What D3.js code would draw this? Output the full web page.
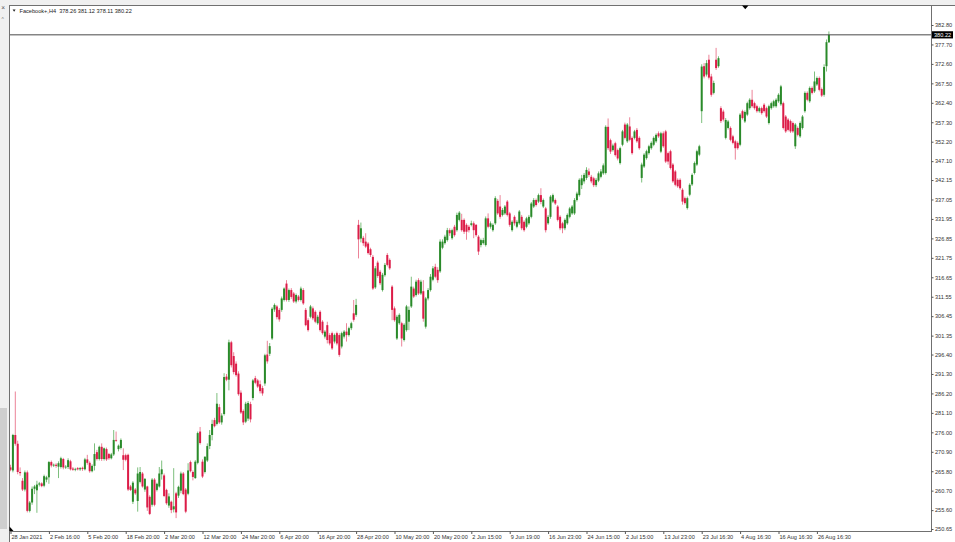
<!DOCTYPE html>
<html><head><meta charset="utf-8">
<script src="https://cdn.jsdelivr.net/npm/d3@7"></script>
<style>
html,body{margin:0;padding:0;background:#fff;}
svg{display:block;font-family:"Liberation Sans",Arial,sans-serif;}
</style></head><body>
<svg id="c" width="955" height="542"></svg>
<script>
// ---- data (H4 candles, Facebook+) ----
const symbolTitle = "Facebook+,H4";
const lastQuote = ["378.26","381.12","378.11","380.22"];
const opens = [
266.8,266.0,275.3,273.0,265.6,263.3,261.0,265.5,255.4,257.6,
261.2,260.8,262.3,262.6,262.0,263.6,264.2,268.2,267.3,267.5,
267.0,266.9,269.0,266.8,266.9,268.4,266.5,266.2,266.6,266.3,
266.7,266.3,268.9,268.0,265.8,267.2,270.8,269.0,272.2,269.0,
271.6,270.3,269.2,270.2,274.0,271.6,271.9,270.0,270.0,270.1,
261.8,257.8,261.0,258.0,263.0,265.2,261.0,261.8,259.1,257.0,
263.6,260.9,261.8,265.0,264.7,260.9,256.8,257.8,255.8,260.0,
259.4,260.7,265.2,261.0,259.9,268.2,265.6,264.0,268.0,276.2,
268.3,265.6,268.6,272.4,275.3,279.2,278.2,282.6,278.6,280.8,
290.6,289.8,299.6,296.0,294.0,291.4,286.4,281.6,278.8,279.6,
283.4,285.0,290.2,289.6,288.6,287.6,288.8,296.4,296.6,300.6,
308.2,309.0,308.1,308.1,310.7,315.0,310.7,313.3,312.4,310.3,
311.6,310.7,313.3,308.1,305.4,306.3,308.5,307.6,304.6,307.6,
305.0,301.1,304.1,301.5,302.0,299.8,302.0,301.5,298.5,301.1,
302.4,301.5,303.3,307.2,306.8,330.4,326.8,327.0,326.0,325.5,
324.0,322.0,314.0,320.5,318.1,313.3,317.2,322.5,321.2,314.2,
308.5,300.6,304.6,304.6,300.2,302.8,305.0,309.0,313.7,312.0,
315.9,312.4,313.0,303.7,311.1,313.3,316.0,319.4,318.6,318.2,
324.4,325.6,326.4,329.0,326.9,329.9,329.0,331.7,331.7,331.7,
330.4,329.9,330.4,330.8,330.4,327.3,325.1,325.6,325.1,332.1,
329.9,329.0,330.8,336.7,335.2,333.0,333.4,336.5,333.4,329.0,
332.5,329.9,330.8,332.5,331.2,329.9,330.8,332.5,335.2,336.9,
336.5,338.2,335.2,334.7,330.8,332.5,336.5,336.9,335.2,332.5,
330.8,329.5,330.8,332.5,333.4,333.4,336.9,338.2,340.8,341.8,
342.7,344.4,343.0,342.6,340.8,342.0,343.0,343.9,344.0,356.1,
352.6,350.0,351.8,350.0,346.6,351.4,356.7,352.3,356.2,353.2,
353.2,355.3,353.2,342.7,345.7,347.9,349.2,350.5,351.4,352.3,
354.4,349.6,354.4,354.9,349.2,349.7,346.2,344.4,342.2,342.2,
339.6,337.4,334.8,338.3,341.0,344.0,346.2,348.8,360.2,372.0,
369.8,373.7,369.3,365.0,373.7,372.0,361.0,360.1,353.2,355.8,
355.8,353.6,352.3,351.9,351.4,360.2,357.5,359.3,361.0,363.2,
362.3,361.5,360.2,361.0,361.9,361.0,357.1,361.0,361.5,361.5,
362.8,362.0,362.3,358.8,358.0,357.6,357.1,351.0,355.8,353.6,
355.8,360.2,365.0,362.8,366.3,365.4,367.2,368.9,366.0,364.5,
372.0,378.26];
const highs = [
267.5,275.6,286.7,273.8,266.8,264.0,266.0,266.0,258.0,261.8,
262.2,263.3,263.0,262.9,264.9,264.6,268.5,268.6,267.8,267.9,
268.4,269.6,269.3,267.4,269.2,268.8,266.9,266.7,266.9,266.9,
267.0,269.3,270.1,268.4,267.6,273.1,271.4,272.5,273.1,272.0,
272.0,270.6,270.6,276.6,276.2,272.8,274.4,271.8,270.4,270.4,
262.2,263.2,261.4,266.8,266.9,265.6,264.0,262.0,259.5,264.0,
264.0,262.8,266.9,268.6,265.2,261.2,260.0,258.1,266.6,260.4,
262.0,265.7,265.6,261.4,267.9,268.6,266.0,268.7,276.2,277.4,
268.9,269.7,273.1,276.6,279.3,279.8,286.3,283.4,281.0,291.5,
291.3,300.3,300.0,297.0,294.6,292.0,287.0,282.0,284.0,284.2,
284.0,290.0,290.8,290.0,289.6,288.2,296.6,300.0,299.4,308.8,
309.8,309.4,308.6,311.6,314.0,315.9,313.7,313.8,312.8,312.4,
312.0,314.2,313.8,308.6,305.9,309.4,309.0,308.0,306.8,308.0,
305.4,302.8,305.0,302.0,302.4,301.9,302.4,302.0,302.4,302.8,
304.6,303.7,305.0,310.7,311.0,331.7,331.0,327.5,328.2,325.9,
324.4,322.5,319.6,321.0,318.6,317.8,320.4,323.0,321.6,314.6,
309.0,306.8,307.2,305.0,304.6,309.4,309.0,316.8,314.2,316.0,
316.4,316.0,315.9,311.5,313.8,317.5,319.6,320.2,319.3,326.6,
326.6,327.8,329.6,329.5,329.4,330.4,333.6,334.0,333.3,332.1,
330.8,330.4,331.5,331.3,330.6,327.7,326.8,327.0,332.6,333.4,
331.3,330.8,337.9,337.2,338.2,334.8,335.6,336.9,333.8,331.6,
332.9,331.7,334.3,333.0,331.6,332.5,333.0,336.4,337.4,337.3,
338.6,340.0,337.3,335.1,333.0,338.2,338.6,337.3,335.6,332.9,
331.2,332.1,333.4,335.1,335.6,337.4,339.1,342.6,343.5,344.0,
345.5,345.2,343.5,343.0,342.7,344.4,345.0,346.5,356.5,358.3,
353.0,351.7,352.2,350.4,350.9,355.3,357.2,357.1,358.6,353.6,
355.3,355.8,353.6,346.7,349.2,350.1,351.4,352.3,353.6,354.4,
354.9,354.8,354.9,355.3,349.6,350.1,346.6,344.8,342.6,342.6,
340.0,337.8,337.8,341.3,343.9,347.0,350.1,351.4,372.5,372.8,
373.6,375.0,370.0,368.2,376.8,374.6,361.5,360.6,358.4,357.9,
356.2,354.0,352.7,352.3,359.7,360.6,360.4,362.7,363.6,365.8,
362.7,361.9,361.4,361.4,362.3,361.4,361.9,362.7,363.2,363.6,
364.9,367.1,362.7,359.2,358.4,358.0,357.5,357.1,356.2,357.5,
359.2,365.4,365.4,366.7,366.7,370.6,369.3,369.3,366.4,372.5,
379.0,381.12];
const lows = [
265.8,265.5,272.5,265.0,264.6,260.6,260.5,255.0,255.0,257.0,
259.8,254.9,261.8,261.6,261.6,262.9,262.5,266.8,266.9,266.7,
264.0,266.5,266.3,266.4,266.4,266.0,265.9,265.8,266.0,265.9,
265.9,266.0,267.5,265.4,265.5,266.0,268.6,268.6,268.5,268.6,
268.5,268.8,268.9,269.8,273.5,271.0,271.5,266.1,268.4,260.6,
260.6,257.2,259.6,255.2,262.6,261.5,260.4,255.4,254.3,256.5,
256.6,260.5,261.5,263.6,259.0,257.0,256.2,254.8,255.0,253.5,
258.8,260.0,259.5,254.8,259.5,265.5,263.4,263.8,267.6,272.8,
264.0,265.2,268.2,271.6,273.9,277.3,277.8,278.2,278.0,280.4,
289.4,287.0,293.0,291.2,290.6,285.6,280.8,277.9,278.4,279.0,
278.6,284.4,288.6,287.6,286.2,285.6,288.2,294.0,296.0,300.2,
307.6,305.6,305.0,307.6,310.3,310.3,310.2,311.0,309.9,309.8,
310.3,310.3,309.4,303.8,302.4,305.9,305.4,304.6,304.2,302.4,
301.6,300.6,299.3,298.8,297.6,299.3,298.8,295.8,298.0,300.6,
299.8,301.1,302.8,305.0,306.3,321.6,325.8,324.9,324.3,322.6,
322.0,313.3,313.6,316.5,314.6,312.9,316.8,319.5,318.6,305.4,
305.0,300.2,304.2,298.5,299.8,302.4,302.8,308.6,311.2,311.6,
312.0,312.0,305.0,303.2,310.6,312.9,315.6,316.4,315.2,317.8,
324.0,325.2,326.0,327.5,326.5,327.3,328.6,331.3,328.6,328.0,
326.5,328.4,330.0,326.9,327.3,322.5,324.5,325.2,324.7,329.5,
329.4,328.6,330.4,333.0,332.0,332.6,333.0,332.6,329.9,328.6,
330.2,329.5,330.4,329.0,328.6,329.5,330.4,332.1,334.8,335.2,
336.1,335.8,334.8,328.4,330.4,332.0,336.1,335.6,331.3,329.0,
328.2,329.0,330.4,332.1,333.0,333.0,336.5,337.8,339.8,341.2,
342.2,343.0,341.3,340.3,340.3,341.6,342.6,343.5,343.6,350.0,
349.0,349.6,348.3,347.3,346.2,351.0,352.8,351.9,352.3,348.8,
352.8,351.9,350.1,341.5,345.3,347.5,348.8,350.1,351.0,351.9,
353.2,349.2,350.6,346.6,346.2,344.9,341.4,340.5,340.1,339.6,
335.7,335.7,334.4,337.9,340.6,343.6,345.8,348.4,357.1,368.8,
369.3,368.5,364.0,364.6,371.0,371.6,357.1,357.5,352.8,355.4,
352.3,351.5,347.5,350.1,351.0,358.0,357.1,358.9,360.6,361.1,
360.6,359.8,359.8,359.3,359.8,358.4,356.7,360.6,361.1,361.1,
362.4,361.6,355.4,354.5,354.9,354.5,354.5,350.3,353.6,353.2,
355.4,359.8,362.8,362.4,364.6,365.0,366.8,365.4,363.9,364.0,
370.6,378.11];
const closes = [
266.2,275.3,273.0,265.6,265.3,261.0,265.5,255.4,257.6,261.2,
261.8,262.3,262.6,261.9,264.5,264.2,268.2,267.3,267.5,267.2,
267.9,269.2,266.8,267.0,268.7,266.3,266.2,266.4,266.3,266.6,
266.4,268.9,268.0,265.8,267.2,270.3,269.0,272.2,269.0,271.8,
268.9,269.2,270.2,274.0,273.8,272.5,274.0,268.8,268.8,261.0,
260.9,262.8,260.0,265.2,265.6,261.8,263.8,256.3,254.6,263.6,
257.0,262.5,265.2,266.3,259.3,257.4,259.2,255.6,256.6,255.0,
261.7,265.2,259.8,255.2,266.0,265.8,264.3,268.3,275.8,273.2,
264.4,269.6,272.4,275.3,278.2,277.6,283.5,278.6,280.4,290.5,
289.8,299.6,293.6,291.8,291.0,286.0,281.2,278.6,283.5,283.7,
279.4,289.6,289.0,288.0,286.8,286.2,296.2,294.6,298.6,308.4,
309.4,306.2,305.6,311.1,313.7,310.7,313.3,311.5,310.3,312.0,
310.7,313.7,309.8,304.1,302.8,309.0,305.9,305.0,306.3,302.8,
302.0,302.4,300.2,299.3,298.0,301.5,299.3,296.3,302.0,302.4,
301.5,303.3,304.6,305.5,309.4,326.6,329.5,325.6,324.7,323.0,
322.5,313.7,319.0,317.0,315.1,317.3,319.9,319.9,319.0,308.1,
305.4,306.3,306.8,300.6,304.2,309.0,308.1,314.2,311.6,315.5,
312.4,315.5,305.8,311.1,313.3,316.8,319.0,316.8,315.9,326.0,
326.0,327.3,329.0,328.2,329.0,327.7,333.0,333.6,329.0,328.6,
328.6,329.0,330.8,329.0,327.7,323.4,326.4,326.4,332.1,329.9,
330.8,330.4,337.4,333.4,332.5,334.3,335.2,333.0,330.4,331.2,
330.8,331.2,333.9,329.5,329.0,332.1,332.5,336.0,336.9,335.6,
338.2,336.4,336.9,329.0,332.5,337.8,338.2,336.0,331.7,329.5,
329.5,331.7,333.0,334.7,335.2,336.9,338.6,342.2,342.6,343.5,
344.8,343.5,341.8,340.8,342.2,343.9,344.4,346.0,356.1,350.5,
349.6,351.2,348.7,347.8,350.5,354.9,353.2,356.7,352.7,349.2,
354.9,352.3,350.5,346.2,348.8,349.7,351.0,351.9,353.2,354.0,
353.6,354.4,351.0,347.0,347.0,345.3,341.8,340.9,340.5,340.0,
336.5,336.1,337.4,340.9,343.5,346.6,349.7,351.0,371.9,369.3,
372.8,369.0,364.5,367.6,371.5,374.1,357.6,358.0,357.9,357.5,
352.7,351.9,350.5,350.5,359.3,358.4,360.0,362.3,363.2,361.5,
361.0,360.2,361.0,359.7,360.2,358.8,361.5,362.3,362.8,363.2,
364.5,366.7,355.8,354.9,355.3,354.9,354.9,356.7,354.0,357.1,
358.8,365.0,363.2,366.3,365.0,368.0,368.9,365.8,364.3,371.8,
378.3,380.22];
const timeLabels = ["28 Jan 2021","2 Feb 16:00","5 Feb 20:00","18 Feb 20:00","2 Mar 20:00",
"12 Mar 20:00","24 Mar 20:00","6 Apr 20:00","16 Apr 20:00","28 Apr 20:00","10 May 20:00",
"20 May 20:00","2 Jun 15:00","9 Jun 19:00","16 Jun 23:00","24 Jun 15:00","2 Jul 15:00",
"13 Jul 23:00","23 Jul 16:30","4 Aug 16:30","16 Aug 16:30","26 Aug 16:30"];
const barsPerLabel = 16;
const priceTicks = [382.80,377.70,372.60,367.50,362.40,357.30,352.20,347.10,342.15,337.05,
331.95,326.85,321.75,316.65,311.55,306.45,301.35,296.40,291.30,286.20,281.10,276.00,
270.90,265.80,260.70,255.60,250.65];
const currentPrice = 380.22;

// ---- drawing ----
const W = 955, H = 542;
const plot = {left: 9, right: 931, top: 5, bottom: 531};
const N = closes.length;
const svg = d3.select("#c");
const FS = 5.6;
const upBody = "#2a8a2a", dnBody = "#dc1c48", upWick = "#7dbf7d", dnWick = "#ec8398";

// window chrome
svg.append("rect").attr("x",0).attr("y",0).attr("width",W).attr("height",plot.top).attr("fill","#f0f0f0");
svg.append("rect").attr("x",0).attr("y",0).attr("width",plot.left).attr("height",H).attr("fill","#f0f0f0");
svg.append("rect").attr("x",0).attr("y",408).attr("width",7).attr("height",121).attr("fill","#cfcfcf");
svg.append("text").attr("x",1.2).attr("y",10).attr("font-size",6.5).attr("fill","#555").text("×");
svg.append("text").attr("x",1.4).attr("y",21).attr("font-size",5).attr("fill","#777").text("^");

const x = d3.scaleLinear().domain([0, N-1]).range([10.5, 10.5 + 2.4*(N-1)]);
const y = d3.scaleLinear().domain([250.65, 382.80]).range([529, 25]);

const bars = d3.range(N).map(i => ({i, o: opens[i], h: highs[i], l: lows[i], c: closes[i]}));
const g = svg.append("g");
g.selectAll("line.wick").data(bars).join("line").attr("class","wick")
  .attr("x1", d => x(d.i)).attr("x2", d => x(d.i))
  .attr("y1", d => y(d.h)).attr("y2", d => y(d.l))
  .attr("stroke", d => d.c >= d.o ? upWick : dnWick).attr("stroke-width", 1);
g.selectAll("rect.body").data(bars).join("rect").attr("class","body")
  .attr("x", d => x(d.i) - 1).attr("width", 2)
  .attr("y", d => y(Math.max(d.o, d.c)))
  .attr("height", d => Math.max(0.8, Math.abs(y(d.o) - y(d.c))))
  .attr("fill", d => d.c >= d.o ? upBody : dnBody);

// price line
svg.append("line").attr("x1",plot.left).attr("x2",plot.right)
  .attr("y1",y(currentPrice)).attr("y2",y(currentPrice))
  .attr("stroke","#4a4a4a").attr("stroke-width",1);

// frame
svg.append("line").attr("x1",plot.left).attr("x2",W).attr("y1",plot.top+0.5).attr("y2",plot.top+0.5).attr("stroke","#707070");
svg.append("line").attr("x1",plot.left+0.5).attr("x2",plot.left+0.5).attr("y1",plot.top).attr("y2",H).attr("stroke","#707070");
svg.append("line").attr("x1",plot.right+0.5).attr("x2",plot.right+0.5).attr("y1",plot.top).attr("y2",plot.bottom+0.5).attr("stroke","#707070");
svg.append("line").attr("x1",plot.left).attr("x2",plot.right+1).attr("y1",plot.bottom+0.5).attr("y2",plot.bottom+0.5).attr("stroke","#707070");

// right price axis
const yAxis = d3.axisRight(y).tickValues(priceTicks).tickSize(2).tickPadding(1.5).tickFormat(d3.format(".2f"));
const ya = svg.append("g").attr("transform",`translate(${plot.right+0.5},0)`).call(yAxis);
ya.select(".domain").remove();
ya.selectAll("line").attr("stroke","#555");
ya.selectAll("text").attr("font-size",FS).attr("fill","#333").attr("font-family","Liberation Sans, Arial, sans-serif");

// current price tag
const tag = svg.append("g").attr("transform",`translate(${plot.right+1},${y(currentPrice)})`);
tag.append("rect").attr("x",0).attr("y",-3.6).attr("width",21).attr("height",7.2).attr("fill","#000");
tag.append("text").attr("x",2).attr("y",2).attr("font-size",FS).attr("fill","#fff").text(d3.format(".2f")(currentPrice));

// bottom time axis
const labelBars = timeLabels.map((_, k) => k * barsPerLabel);
const xAxis = d3.axisBottom(x).tickValues(labelBars).tickSize(2.5).tickPadding(1.2)
  .tickFormat((d, k) => timeLabels[k]);
const xa = svg.append("g").attr("transform",`translate(0,${plot.bottom+0.5})`).call(xAxis);
xa.select(".domain").remove();
xa.selectAll("line").attr("stroke","#555");
xa.selectAll("text").attr("font-size",FS).attr("fill","#333").attr("text-anchor","start").attr("x",0.5)
  .attr("font-family","Liberation Sans, Arial, sans-serif");

// header
svg.append("path").attr("d","M12.6,9.6 L15.6,9.6 L14.1,11.8 Z").attr("fill","#222");
svg.append("text").attr("x",19.5).attr("y",12.6).attr("font-size",FS).attr("fill","#222")
  .text(symbolTitle + "\u00a0\u00a0" + lastQuote.join(" "));

// shift marker (top) and corner marker (bottom-left)
svg.append("path").attr("d","M742,5.5 L748.5,5.5 L745.25,9.3 Z").attr("fill","#000");
svg.append("path").attr("d","M9.5,526.5 L9.5,531 L13.5,531 Z").attr("fill","#000");
</script>
</body></html>
